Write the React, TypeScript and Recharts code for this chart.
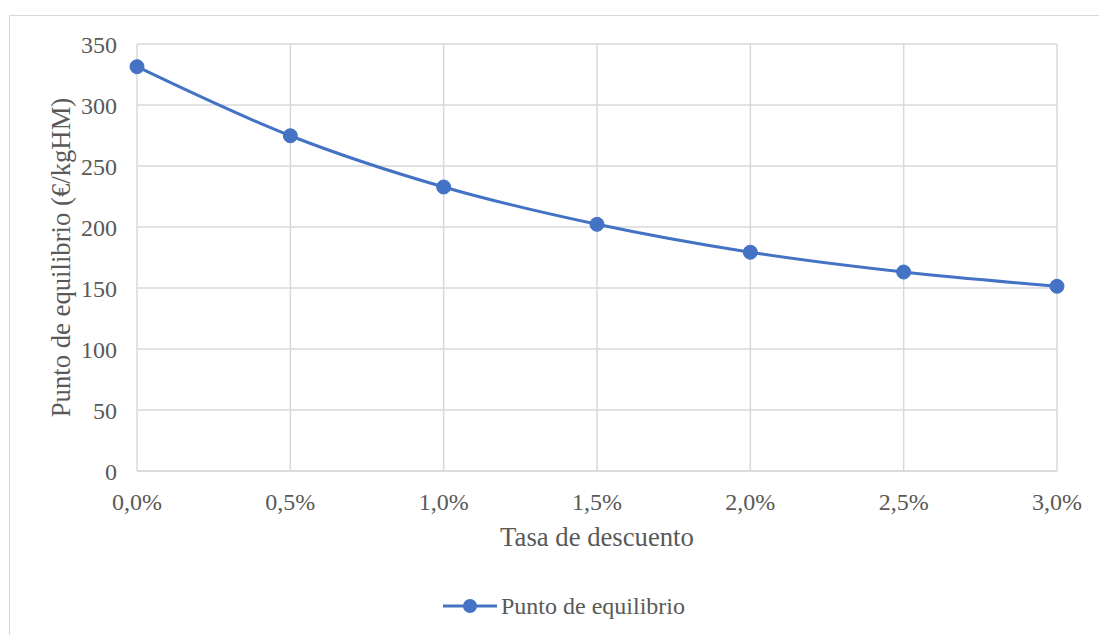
import {
  CartesianGrid,
  Label,
  Legend,
  Line,
  LineChart,
  XAxis,
  YAxis,
} from "recharts";

// discount rate (%) and break-even point (€/kgHM)
const rates = [0, 0.5, 1, 1.5, 2, 2.5, 3];
const breakEven = [331.4, 274.8, 232.8, 202.2, 179.3, 163.1, 151.4];
const rateTicks = [0, 0.5, 1, 1.5, 2, 2.5, 3];
const valueTicks = [0, 50, 100, 150, 200, 250, 300, 350];

const data = rates.map((rate, i) => ({ rate, value: breakEven[i] }));

const FONT = "'Liberation Serif', 'Times New Roman', serif";
const TEXT = "#595959";
const GRID = "#D9D9D9";
const BLUE = "#4472C4";

const formatRate = (v: number) => `${v.toFixed(1).replace(".", ",")}%`;

function LegendContent() {
  return (
    <svg width={260} height={30} style={{ overflow: "visible" }}>
      <line x1={2} y1={15} x2={56} y2={15} stroke={BLUE} strokeWidth={3} />
      <circle cx={29} cy={15} r={7} fill={BLUE} />
      <text x={60} y={23} fontFamily={FONT} fontSize={24} fill={TEXT}>
        Punto de equilibrio
      </text>
    </svg>
  );
}

export default function App() {
  return (
    <div
      style={{
        position: "absolute",
        left: 0,
        top: 0,
        width: 1099,
        height: 635,
        overflow: "hidden",
        background: "#fff",
      }}
    >
      <div
        style={{
          position: "absolute",
          left: 9,
          top: 15,
          width: 1200,
          height: 700,
          border: `1px solid ${GRID}`,
        }}
      />
      <LineChart
        width={1099}
        height={635}
        data={data}
        margin={{ top: 44, right: 42, bottom: 104, left: 77 }}
        style={{ position: "absolute", left: 0, top: 0 }}
      >
        <CartesianGrid stroke={GRID} strokeWidth={1.5} />
        <XAxis
          dataKey="rate"
          type="number"
          domain={[0, 3]}
          ticks={rateTicks}
          tickFormatter={formatRate}
          tickLine={false}
          tickSize={0}
          tickMargin={22}
          height={60}
          stroke={GRID}
          strokeWidth={1.5}
          tick={{ fill: TEXT, fontFamily: FONT, fontSize: 24 }}
        >
          <Label
            content={({ viewBox }: any) => (
              <text
                x={viewBox.x + viewBox.width / 2}
                y={viewBox.y + 75}
                textAnchor="middle"
                fontFamily={FONT}
                fontSize={26.7}
                fill={TEXT}
              >
                Tasa de descuento
              </text>
            )}
          />
        </XAxis>
        <YAxis
          type="number"
          domain={[0, 350]}
          ticks={valueTicks}
          axisLine={false}
          tickLine={false}
          tickSize={0}
          tickMargin={20}
          width={60}
          tick={{ fill: TEXT, fontFamily: FONT, fontSize: 24 }}
        >
          <Label
            content={({ viewBox }: any) => {
              const cx = viewBox.x + viewBox.width - 67;
              const cy = viewBox.y + viewBox.height / 2;
              return (
                <text
                  x={cx}
                  y={cy}
                  transform={`rotate(-90, ${cx}, ${cy})`}
                  textAnchor="middle"
                  fontFamily={FONT}
                  fontSize={26.7}
                  fill={TEXT}
                >
                  Punto de equilibrio (€/kgHM)
                </text>
              );
            }}
          />
        </YAxis>
        <Legend
          layout="horizontal"
          verticalAlign="middle"
          align="center"
          content={<LegendContent />}
          wrapperStyle={{ top: 591, left: 441, width: 260, height: 30 }}
        />
        <Line
          type="monotone"
          dataKey="value"
          name="Punto de equilibrio"
          stroke={BLUE}
          strokeWidth={3}
          dot={{ r: 7, fill: BLUE, stroke: BLUE, strokeWidth: 1 }}
          activeDot={false}
          isAnimationActive={false}
        />
      </LineChart>
    </div>
  );
}
